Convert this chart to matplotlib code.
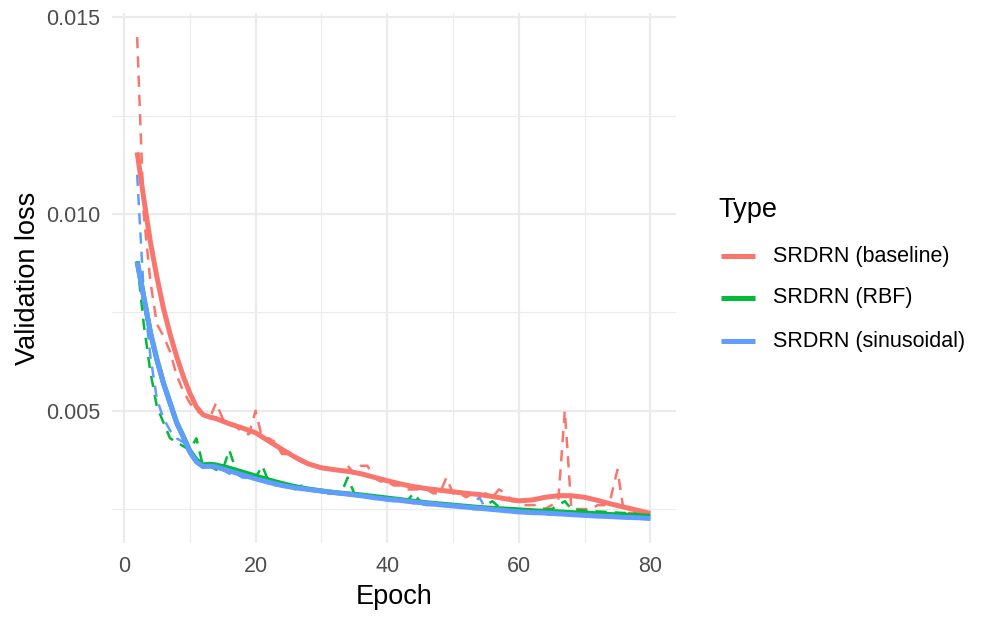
import matplotlib
matplotlib.use("Agg")
import matplotlib.pyplot as plt
from matplotlib.lines import Line2D

plt.rcParams['font.family'] = ['Liberation Sans', 'DejaVu Sans']

# ---------------- data ----------------
epochs = list(range(2, 81))

baseline_raw = [
    0.0145, 0.0100, 0.0083, 0.0072, 0.0069, 0.0065, 0.0059, 0.0055, 0.0052, 0.0050,   # 2-11
    0.0049, 0.0048, 0.0052, 0.0048, 0.0047, 0.0046, 0.00445, 0.0044, 0.0050, 0.0043,  # 12-21
    0.0043, 0.0042, 0.0039, 0.0039, 0.0038, 0.0037, 0.0036, 0.0036, 0.00355, 0.0035,  # 22-31
    0.0035, 0.0035, 0.0036, 0.0034, 0.0036, 0.0036, 0.0033, 0.0032, 0.0032, 0.0031,   # 32-41
    0.0031, 0.0030, 0.0030, 0.0030, 0.0030, 0.0029, 0.0029, 0.0033, 0.0029, 0.0029,   # 42-51
    0.0028, 0.0029, 0.0028, 0.0029, 0.0028, 0.0030, 0.0029, 0.0027, 0.0027, 0.0026,   # 52-61
    0.0026, 0.0026, 0.0025, 0.0026, 0.0027, 0.0050, 0.0025, 0.0025, 0.0025, 0.0025,   # 62-71
    0.0026, 0.0026, 0.0028, 0.0035, 0.0024, 0.0024, 0.0024, 0.0024, 0.0024,           # 72-80
]

rbf_raw = [
    0.0088, 0.0072, 0.0060, 0.0051, 0.0047, 0.0043, 0.0042, 0.0041, 0.0040, 0.0043,
    0.0036, 0.0036, 0.0035, 0.0035, 0.0040, 0.0035, 0.0034, 0.0034, 0.0033, 0.0036,
    0.0032, 0.0032, 0.0031, 0.0031, 0.0031, 0.0030, 0.0030, 0.0030, 0.00295, 0.0029,
    0.0029, 0.0029, 0.0033, 0.0029, 0.0029, 0.00285, 0.0028, 0.0028, 0.00278, 0.00275,
    0.00273, 0.0027, 0.0029, 0.0027, 0.00268, 0.00265, 0.00263, 0.0026, 0.0026, 0.00258,
    0.00258, 0.0025, 0.0025, 0.0026, 0.0027, 0.00255, 0.0025, 0.0025, 0.0025, 0.00248,
    0.00245, 0.00245, 0.0025, 0.0025, 0.0026, 0.0027, 0.0025, 0.00248, 0.00246, 0.00245,
    0.00244, 0.00243, 0.00242, 0.00241, 0.0024, 0.0024, 0.00239, 0.00238, 0.00237,
]

sin_raw = [
    0.0110, 0.0080, 0.0064, 0.0053, 0.0048, 0.0045, 0.0043, 0.0042, 0.0040, 0.0037,
    0.0036, 0.0036, 0.0035, 0.0035, 0.0034, 0.0034, 0.0033, 0.0033, 0.0033, 0.0032,
    0.0032, 0.0031, 0.0031, 0.0031, 0.0030, 0.0031, 0.0030, 0.0030, 0.0030, 0.0029,
    0.0029, 0.0029, 0.00288, 0.00285, 0.0028, 0.0028, 0.00278, 0.00275, 0.00272, 0.0027,
    0.0027, 0.00268, 0.00265, 0.00263, 0.0026, 0.0026, 0.0026, 0.00258, 0.00257, 0.00255,
    0.00255, 0.0026, 0.0028, 0.0025, 0.0025, 0.00248, 0.00245, 0.00243, 0.0024, 0.0024,
    0.00239, 0.00238, 0.00237, 0.00236, 0.00235, 0.00235, 0.00234, 0.00233, 0.00232, 0.00232,
    0.00231, 0.0023, 0.0023, 0.00229, 0.00228, 0.00228, 0.00227, 0.00226, 0.00225,
]

smooth_epochs = [2, 3, 4, 5, 6, 7, 8, 9, 10, 11, 12, 13, 14] + list(range(16, 81, 2))

baseline_smooth = [
    0.01157, 0.0104, 0.0093, 0.0084, 0.0076, 0.00695, 0.00638, 0.00588, 0.00545, 0.0051, 0.0049, 0.00484, 0.0048,
    0.00467, 0.00456, 0.00444, 0.00423, 0.00402, 0.00382, 0.00365, 0.00355, 0.0035, 0.00346, 0.0034,
    0.00331, 0.00322, 0.00314, 0.00307, 0.00302, 0.00298, 0.00294, 0.0029, 0.00287, 0.00282, 0.00276,
    0.00271, 0.00273, 0.0028, 0.00284, 0.00284, 0.0028, 0.00272, 0.00263, 0.00255, 0.00247, 0.00239,
]

rbf_smooth = [
    0.0088, 0.0079, 0.0070, 0.0063, 0.0057, 0.0052, 0.0047, 0.00435, 0.00398, 0.00375, 0.00362, 0.00364, 0.00362,
    0.00354, 0.00344, 0.00334, 0.00324, 0.00315, 0.00307, 0.00301, 0.00296, 0.00292, 0.00289, 0.00286,
    0.00282, 0.00278, 0.00274, 0.0027, 0.00266, 0.00263, 0.0026, 0.00257, 0.00254, 0.00252, 0.0025,
    0.00248, 0.00246, 0.00244, 0.00243, 0.00241, 0.0024, 0.00238, 0.00236, 0.00235, 0.00233, 0.00232,
]

sin_smooth = [
    0.00879, 0.0079, 0.0070, 0.0063, 0.0057, 0.0052, 0.0047, 0.00434, 0.00395, 0.0037, 0.00358, 0.00359, 0.00357,
    0.00347, 0.00337, 0.00327, 0.00318, 0.0031, 0.00304, 0.003, 0.00296, 0.00292, 0.00288, 0.00284,
    0.00279, 0.00275, 0.00272, 0.00268, 0.00265, 0.00261, 0.00258, 0.00255, 0.00252, 0.00249, 0.00246,
    0.00243, 0.00241, 0.0024, 0.00238, 0.00236, 0.00234, 0.00232, 0.00231, 0.00229, 0.00228, 0.00226,
]

series_names = ["SRDRN (baseline)", "SRDRN (RBF)", "SRDRN (sinusoidal)"]
colors = ["#F8766D", "#00BA38", "#619CFF"]
x_ticks = [0, 20, 40, 60, 80]
y_ticks = [0.005, 0.010, 0.015]
y_tick_labels = ["0.005", "0.010", "0.015"]

# ---------------- figure ----------------
W, H = 997, 623
fig = plt.figure(figsize=(W / 100, H / 100), dpi=100)
fig.patch.set_facecolor("white")

left, right, top, bottom = 111.5, 676, 13, 543
ax = fig.add_axes([left / W, 1 - bottom / H, (right - left) / W, (bottom - top) / H])

raws = [baseline_raw, rbf_raw, sin_raw]
smooths = [baseline_smooth, rbf_smooth, sin_smooth]

for raw, c in zip(raws, colors):
    ax.plot(epochs, raw, color=c, lw=1.8, dashes=(4.5, 3.2), zorder=2)
for sm, c in zip(smooths, colors):
    ax.plot(smooth_epochs, sm, color=c, lw=3.6, zorder=3,
            solid_joinstyle="round", solid_capstyle="butt")

all_vals = baseline_raw + rbf_raw + sin_raw
ymin, ymax = min(all_vals), max(all_vals)
pad = 0.05 * (ymax - ymin)
ax.set_ylim(ymin - pad, ymax + pad)
ax.set_xlim(2 - 0.05 * 78, 80 + 0.05 * 78)

ax.set_xticks(x_ticks)
ax.set_xticks([10, 30, 50, 70], minor=True)
ax.set_yticks(y_ticks)
ax.set_yticklabels(y_tick_labels)
ax.set_yticks([0.0025, 0.0075, 0.0125], minor=True)

ax.grid(which="major", color="#EBEBEB", lw=1.6, zorder=0)
ax.grid(which="minor", color="#EBEBEB", lw=0.8, zorder=0)
ax.set_axisbelow(True)
for s in ax.spines.values():
    s.set_visible(False)
ax.tick_params(which="both", length=0, labelsize=15.5, labelcolor="#4D4D4D")
ax.tick_params(axis="y", pad=8)
ax.tick_params(axis="x", pad=9)

fig.text(394 / W, 1 - 597 / H, "Epoch", fontsize=19.5, ha="center", va="center")
fig.text(28 / W, 1 - 278 / H, "Validation loss", fontsize=19.5, rotation=90,
         ha="center", va="center")

# legend (manual, ggplot-like)
fig.text(718 / W, 1 - 210 / H, "Type", fontsize=19.5, ha="left", va="center")
entry_y = [256, 298, 341]
for name, c, yy in zip(series_names, colors, entry_y):
    fig.add_artist(Line2D([721 / W, 755 / W], [1 - yy / H, 1 - yy / H], color=c, lw=3.6,
                          solid_capstyle="butt", transform=fig.transFigure))
    fig.text(773 / W, 1 - yy / H, name, fontsize=15.5, ha="left", va="center")

fig.savefig("out.png", dpi=100, facecolor="white")
